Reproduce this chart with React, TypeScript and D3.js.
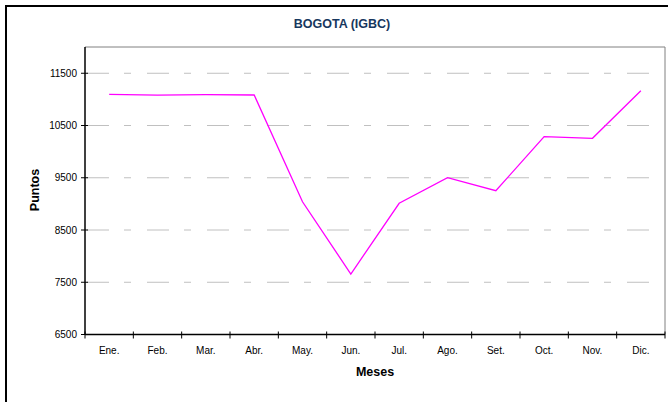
import React from "react";
import * as d3 from "d3";

const months = ["Ene.", "Feb.", "Mar.", "Abr.", "May.", "Jun.", "Jul.", "Ago.", "Set.", "Oct.", "Nov.", "Dic."];
const values = [11096, 11080, 11090, 11084, 9040, 7658, 9011, 9501, 9252, 10286, 10255, 11166];
const yTicks = [6500, 7500, 8500, 9500, 10500, 11500];
const title = "BOGOTA (IGBC)";

export default function App() {
  const W = 668, H = 402;
  const left = 85, right = 665, top = 47, bottom = 334.5;
  const x = d3.scaleBand<string>().domain(months).range([left, right]);
  const y = d3.scaleLinear().domain([6500, 12000]).range([bottom, bottom - 5500 * 0.05225]);
  const line = d3.line<number>()
    .x((_, i) => (x(months[i]) as number) + x.bandwidth() / 2)
    .y((d) => y(d));
  const font = "'Liberation Sans', Arial, sans-serif";
  return (
    <svg width={W} height={H} style={{ position: "absolute", left: 0, top: 0 }} fontFamily={font}>
      <rect x={0} y={0} width={W} height={H} fill="#fff" />
      <rect x={6} y={6} width={W + 20} height={H + 20} fill="none" stroke="#000" strokeWidth={2} />
      <text x={342} y={28} textAnchor="middle" fontSize={12.5} fontWeight="bold" fill="#17375E">{title}</text>
      {/* plot border */}
      <line x1={left} y1={top} x2={right} y2={top} stroke="#808080" strokeWidth={1} />
      <line x1={right} y1={top} x2={right} y2={bottom} stroke="#808080" strokeWidth={1} />
      {yTicks.filter((t) => t > 6500).map((t) => (
        <line key={t} x1={left + 2} x2={right - 1} y1={y(t)} y2={y(t)} stroke="#c0c0c0" strokeWidth={1} strokeDasharray="22,15,7,16" />
      ))}
      {/* axes */}
      <line x1={left} y1={top} x2={left} y2={bottom} stroke="#000" strokeWidth={1.5} />
      <line x1={left} y1={bottom} x2={right} y2={bottom} stroke="#000" strokeWidth={1.5} />
      {yTicks.map((t) => (
        <g key={t}>
          <line x1={left - 4} x2={left + 3} y1={y(t)} y2={y(t)} stroke="#000" strokeWidth={1} />
          <text x={left - 8} y={y(t) + 3.5} textAnchor="end" fontSize={10} fill="#000">{t}</text>
        </g>
      ))}
      {months.map((m, i) => (
        <line key={"t" + m} x1={(x(m) as number)} x2={(x(m) as number)} y1={bottom - 3} y2={bottom + 4} stroke="#000" strokeWidth={1} />
      ))}
      <line x1={right} x2={right} y1={bottom - 3} y2={bottom + 4} stroke="#000" strokeWidth={1} />
      {months.map((m) => (
        <text key={m} x={(x(m) as number) + x.bandwidth() / 2} y={354} textAnchor="middle" fontSize={10} fill="#000">{m}</text>
      ))}
      <path d={line(values) || ""} fill="none" stroke="#FF00FF" strokeWidth={1.3} />
      <text x={375} y={376} textAnchor="middle" fontSize={12.5} fontWeight="bold" fill="#000">Meses</text>
      <text transform="translate(39,190) rotate(-90)" textAnchor="middle" fontSize={12.5} fontWeight="bold" fill="#000">Puntos</text>
    </svg>
  );
}
